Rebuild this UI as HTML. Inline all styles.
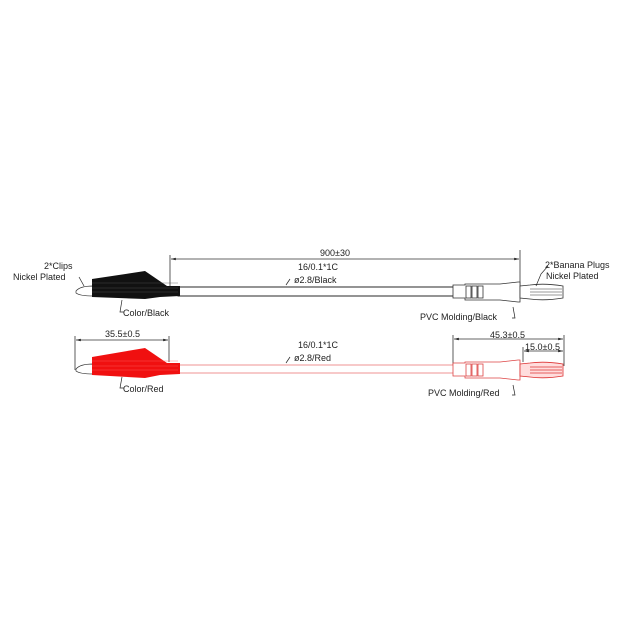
<!DOCTYPE html>
<html><head><style>body{margin:0;background:#fff}svg{display:block}text{font-family:"Liberation Sans",sans-serif;font-size:9px;fill:#222}</style></head><body>
<svg width="640" height="640" viewBox="0 0 640 640" xmlns="http://www.w3.org/2000/svg">
<defs><marker id="a" markerWidth="6" markerHeight="6" refX="6" refY="3" orient="auto-start-reverse"><path d="M0,1.5 L6,3 L0,4.5Z" fill="#222"/></marker></defs>
<g stroke="#333" stroke-width="0.8" fill="none">
<!-- black dims -->
<line x1="170" y1="255" x2="170" y2="288"/><line x1="520" y1="250" x2="520" y2="290"/>
<line x1="171" y1="259" x2="519" y2="259" marker-start="url(#a)" marker-end="url(#a)"/>
<!-- red dims -->
<line x1="75" y1="336" x2="75" y2="370"/><line x1="169" y1="336" x2="169" y2="362"/>
<line x1="76" y1="340" x2="168" y2="340" marker-start="url(#a)" marker-end="url(#a)"/>
<line x1="453" y1="335" x2="453" y2="366"/><line x1="564" y1="335" x2="564" y2="366"/>
<line x1="454" y1="339" x2="563" y2="339" marker-start="url(#a)" marker-end="url(#a)"/>
<line x1="523" y1="347" x2="523" y2="362"/>
<line x1="524" y1="351" x2="563" y2="351" marker-start="url(#a)" marker-end="url(#a)"/>
</g>
<!-- black cable -->
<rect x="178" y="287" width="276" height="9" fill="#fff" stroke="#111" stroke-width="0.9"/>
<!-- black clip -->
<path d="M76,291 Q80,286 93,286 L93,296 Q80,296 76,293Z" fill="#fff" stroke="#333" stroke-width="0.7"/>
<path d="M92,279 L145,271 L167,286 L180,286 L180,296 L160,297 L145,299 L92,297Z" fill="#111"/>
<g stroke="#555" stroke-width="0.4"><line x1="92" y1="283" x2="178" y2="283"/><line x1="92" y1="288" x2="178" y2="288"/><line x1="92" y1="292" x2="178" y2="292"/></g>
<!-- black molding -->
<path d="M453,285 L465,285 L465,284 L500,284 L518,282 L520,282 L520,302 L518,302 L500,300 L465,300 L465,298 L453,298Z" fill="#fff" stroke="#333" stroke-width="0.8"/>
<g fill="none" stroke="#333" stroke-width="0.8"><rect x="466" y="286" width="5" height="12"/><rect x="472" y="286" width="5" height="12"/><rect x="478" y="286" width="5" height="12"/></g>
<path d="M520,286 L530,285 Q545,283 563,286 L563,298 Q545,301 530,299 L520,298Z" fill="#fff" stroke="#333" stroke-width="0.8"/>
<g stroke="#333" stroke-width="0.6"><line x1="530" y1="289" x2="562" y2="289"/><line x1="530" y1="292" x2="562" y2="292"/><line x1="530" y1="295" x2="562" y2="295"/></g>
<!-- red cable -->
<rect x="178" y="365" width="276" height="8" fill="#fff" stroke="#e88" stroke-width="0.9"/>
<path d="M76,369 Q80,364 93,364 L93,374 Q80,374 76,371Z" fill="#fff" stroke="#333" stroke-width="0.7"/>
<path d="M92,357 L145,348 L167,363 L180,363 L180,374 L160,375 L145,378 L92,375Z" fill="#f01010"/>
<g stroke="#f66" stroke-width="0.4"><line x1="92" y1="361" x2="178" y2="361"/><line x1="92" y1="366" x2="178" y2="366"/><line x1="92" y1="370" x2="178" y2="370"/></g>
<path d="M453,363 L465,363 L465,362 L500,362 L518,360 L520,360 L520,380 L518,380 L500,378 L465,378 L465,376 L453,376Z" fill="#fff" stroke="#d44" stroke-width="0.8"/>
<g fill="none" stroke="#d44" stroke-width="0.8"><rect x="466" y="364" width="5" height="12"/><rect x="472" y="364" width="5" height="12"/><rect x="478" y="364" width="5" height="12"/></g>
<path d="M520,364 L530,363 Q545,361 563,364 L563,376 Q545,379 530,377 L520,376Z" fill="#fdd" stroke="#d33" stroke-width="0.8"/>
<g stroke="#d33" stroke-width="0.7"><line x1="530" y1="367" x2="562" y2="367"/><line x1="530" y1="370" x2="562" y2="370"/><line x1="530" y1="373" x2="562" y2="373"/></g>
<!-- leaders -->
<g stroke="#222" stroke-width="0.7" fill="none">
<path d="M79,277 L84,286"/><path d="M122,300 L120,312 L124,312"/><path d="M122,377 L120,388 L124,388"/>
<path d="M290,279 L286,285"/><path d="M290,357 L286,363"/>
<path d="M513,307 L515,318 L512,318"/><path d="M513,385 L515,395 L512,395"/>
<path d="M548,266 L541,274 L536,286"/>
</g>
<!-- text -->
<text x="320" y="256">900±30</text>
<text x="298" y="270">16/0.1*1C</text>
<text x="294" y="283">ø2.8/Black</text>
<text x="298" y="348">16/0.1*1C</text>
<text x="294" y="361">ø2.8/Red</text>
<text x="105" y="337">35.5±0.5</text>
<text x="490" y="338">45.3±0.5</text>
<text x="525" y="350">15.0±0.5</text>
<text x="44" y="269">2*Clips</text>
<text x="13" y="280">Nickel  Plated</text>
<text x="123" y="316">Color/Black</text>
<text x="123" y="392">Color/Red</text>
<text x="420" y="320">PVC  Molding/Black</text>
<text x="428" y="396">PVC  Molding/Red</text>
<text x="545" y="268">2*Banana  Plugs</text>
<text x="546" y="279">Nickel  Plated</text>
</svg>
</body></html>
